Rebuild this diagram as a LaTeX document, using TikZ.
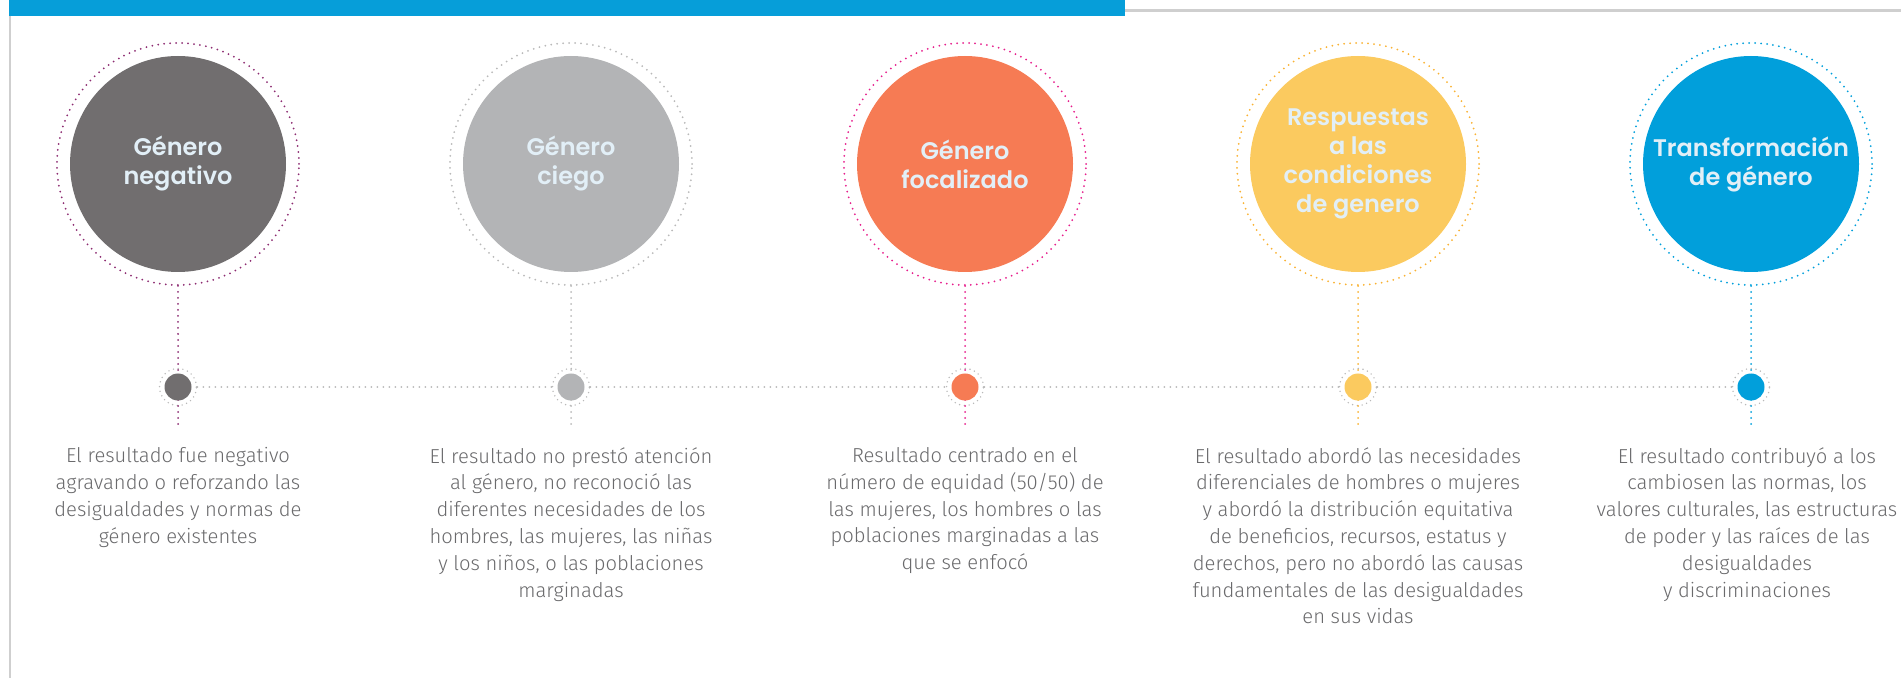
\documentclass[tikz,border=0pt]{standalone}
\usepackage{fontspec}
\setmainfont{Fira Sans Light}
\newfontfamily\titlefont{Poppins SemiBold}
\usepackage{tikz}
\definecolor{barblue}{HTML}{069ED9}
\definecolor{filet}{HTML}{CFCFCF}
\definecolor{gristexte}{HTML}{6A6A6C}
\definecolor{titre}{HTML}{E2EFF7}
\definecolor{negativo}{HTML}{716E6F}
\definecolor{ciego}{HTML}{B3B4B6}
\definecolor{focal}{HTML}{F67B54}
\definecolor{respuesta}{HTML}{FBCA5F}
\definecolor{transfo}{HTML}{019FDB}
\definecolor{violet}{HTML}{8D2C72}
\definecolor{grispoint}{HTML}{B9B9B9}
\definecolor{magenta}{HTML}{E61E8C}
\definecolor{ambre}{HTML}{F9B233}
\tikzstyle{rond} = [circle, minimum size=108pt, inner sep=0pt, text=titre, align=center, font=\titlefont\fontsize{12}{14.5}\selectfont, execute at begin node={\rule{0pt}{15pt}}]
\tikzstyle{anneau} = [circle, minimum size=121pt, inner sep=0pt, line width=1pt, dash pattern=on 0pt off 3pt, line cap=round]
\tikzstyle{pastille} = [circle, minimum size=13.5pt, inner sep=0pt]
\tikzstyle{petitanneau} = [circle, minimum size=18.5pt, inner sep=0pt, draw=grispoint, line width=0.8pt, dash pattern=on 0pt off 2.4pt, line cap=round]
\tikzstyle{pointille} = [line width=1pt, dash pattern=on 0pt off 3pt, line cap=round]
\tikzstyle{texte} = [anchor=north, inner sep=0pt, align=center, text=gristexte, font=\fontsize{10.1}{13.4}\selectfont]

\begin{document}
\begin{tikzpicture}[x=0.5pt, y=-0.5pt]
    \useasboundingbox (0,0) rectangle (1901,678);

    % bandeau du haut
    \fill[barblue] (9,0) rectangle (1125,16);
    \draw[filet, line width=1.3pt] (1125,10.5) -- (1901,10.5);
    \draw[filet, line width=1.1pt] (10,16) -- (10,678);

    % grands cercles
    \node [rond, fill=negativo] (big1) at (178,164) {Género\\negativo};
    \node [anneau, draw=violet] (ring1) at (big1) {};
    \node [rond, fill=ciego] (big2) at (571,164) {Género\\ciego};
    \node [anneau, draw=grispoint] (ring2) at (big2) {};
    \node [rond, fill=focal] (big3) at (965,164) {Género\\focalizado};
    \node [anneau, draw=magenta] (ring3) at (big3) {};
    \node [rond, fill=respuesta] (big4) at (1358,164) {Respuestas\\a las\\condiciones\\de genero};
    \node [anneau, draw=ambre] (ring4) at (big4) {};
    \node [rond, fill=transfo] (big5) at (1751,164) {Transformación\\de género};
    \node [anneau, draw=transfo] (ring5) at (big5) {};

    % petits anneaux sur la ligne
    \foreach \i/\x in {1/178, 2/571, 3/965, 4/1358, 5/1751} {
        \node [petitanneau] (dring\i) at (\x,387) {};
        \coordinate (end\i) at (\x,428);
    }

    % traits verticaux
    \draw[pointille, violet] (ring1.south) -- (end1);
    \draw[pointille, grispoint] (ring2.south) -- (end2);
    \draw[pointille, magenta] (ring3.south) -- (end3);
    \draw[pointille, ambre] (ring4.south) -- (end4);
    \draw[pointille, transfo] (ring5.south) -- (end5);

    % ligne horizontale
    \foreach \i/\j in {1/2, 2/3, 3/4, 4/5}
        \draw[pointille, grispoint] (dring\i.east) -- (dring\j.west);

    \node [pastille, fill=negativo] (dot1) at (dring1) {};
    \node [pastille, fill=ciego] (dot2) at (dring2) {};
    \node [pastille, fill=focal] (dot3) at (dring3) {};
    \node [pastille, fill=respuesta] (dot4) at (dring4) {};
    \node [pastille, fill=transfo] (dot5) at (dring5) {};

    % textes
    \node [texte] (desc1) at (178,447) {El resultado fue negativo\\agravando o reforzando las\\desigualdades y normas de\\género existentes};
    \node [texte] (desc2) at (571,447) {El resultado no prestó atención\\al género, no reconoció las\\diferentes necesidades de los\\hombres, las mujeres, las niñas\\y los niños, o las poblaciones\\marginadas};
    \node [texte] (desc3) at (965,447) {Resultado centrado en el\\número de equidad (50/50) de\\las mujeres, los hombres o las\\poblaciones marginadas a las\\que se enfocó};
    \node [texte] (desc4) at (1358,447) {El resultado abordó las necesidades\\diferenciales de hombres o mujeres\\y abordó la distribución equitativa\\de beneficios, recursos, estatus y\\derechos, pero no abordó las causas\\fundamentales de las desigualdades\\en sus vidas};
    \node [texte] (desc5) at (1747,447) {El resultado contribuyó a los\\cambiosen las normas, los\\valores culturales, las estructuras\\de poder y las raíces de las\\desigualdades\\y discriminaciones};
\end{tikzpicture}
\end{document}
